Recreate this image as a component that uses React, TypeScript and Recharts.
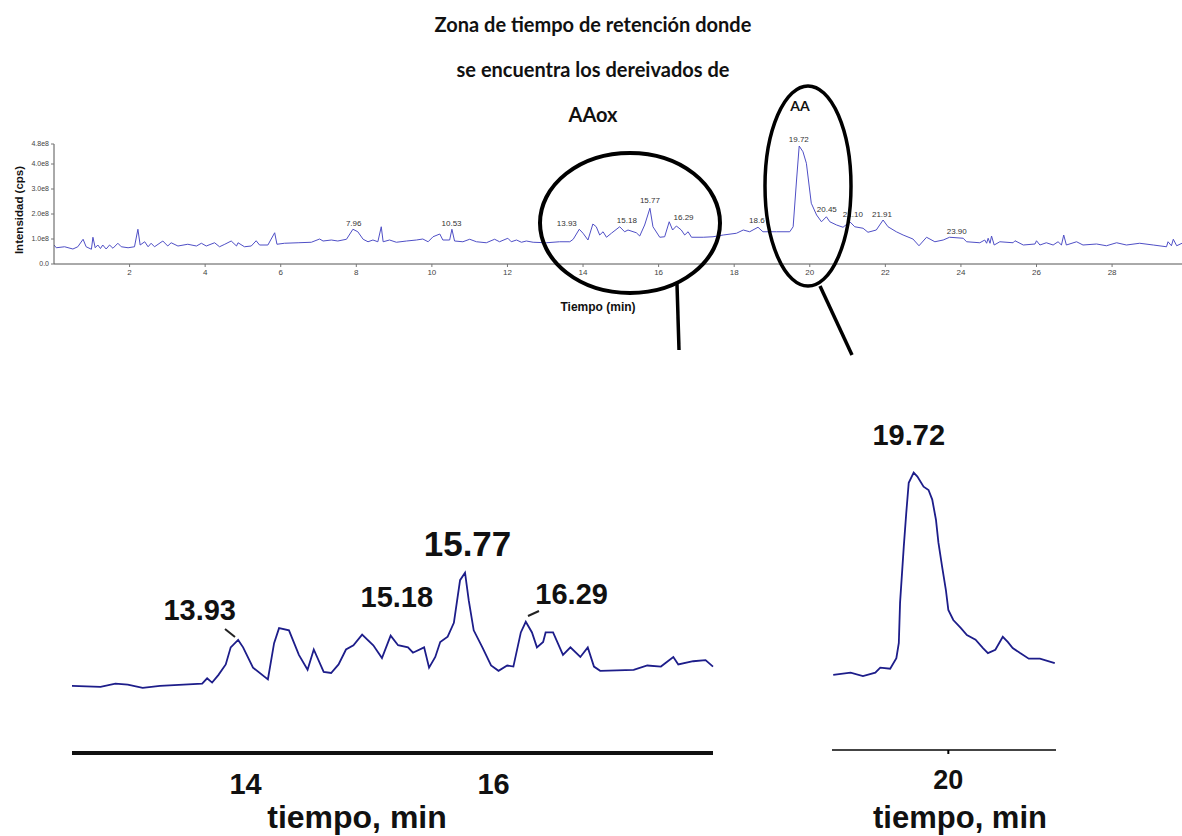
import React from 'react';
import { ComposedChart, Line, XAxis, YAxis, ReferenceDot } from 'recharts';

// full chromatogram, time in min, intensity in 1e8 cps
const topTimes = [
  0.0, 0.06, 0.28, 0.5, 0.63, 0.77, 0.85, 0.99, 1.03, 1.09, 1.16, 1.23, 1.29, 1.38, 1.47, 1.56, 1.69, 1.78, 1.96,
  2.13, 2.22, 2.28, 2.4, 2.49, 2.57, 2.66, 2.88, 3.01, 3.1, 3.28, 3.54, 3.77, 3.9, 4.03, 4.25, 4.38, 4.52, 4.69,
  4.83, 4.87, 5.04, 5.22, 5.35, 5.44, 5.66, 5.84, 5.9, 6.1, 6.46, 6.81, 7.03, 7.12, 7.34, 7.51, 7.74, 7.91, 8.04,
  8.18, 8.31, 8.44, 8.57, 8.66, 8.71, 8.88, 9.06, 9.33, 9.59, 9.76, 9.9, 10.03, 10.21, 10.29, 10.47, 10.53, 10.6,
  10.82, 11.0, 11.18, 11.44, 11.66, 11.79, 12.01, 12.1, 12.24, 12.37, 12.5, 12.68, 13.03, 13.38, 13.65, 13.74,
  13.9, 14.0, 14.13, 14.26, 14.35, 14.44, 14.53, 14.62, 14.75, 14.97, 15.1, 15.19, 15.41, 15.5, 15.63, 15.77,
  15.85, 16.03, 16.16, 16.28, 16.37, 16.47, 16.6, 16.69, 16.78, 16.87, 17.18, 17.44, 17.71, 18.06, 18.24, 18.41,
  18.63, 18.76, 19.12, 19.47, 19.56, 19.65, 19.72, 19.82, 19.91, 20.04, 20.18, 20.31, 20.44, 20.53, 20.71, 20.88,
  21.06, 21.19, 21.41, 21.54, 21.76, 21.94, 22.07, 22.29, 22.47, 22.73, 22.89, 23.09, 23.31, 23.53, 23.7, 24.06,
  24.15, 24.5, 24.63, 24.68, 24.72, 24.77, 24.81, 24.88, 25.03, 25.38, 25.43, 25.65, 25.96, 26.0, 26.09, 26.26,
  26.44, 26.57, 26.66, 26.72, 26.79, 27.06, 27.23, 27.59, 27.85, 28.12, 28.38, 28.73, 29.09, 29.44, 29.48, 29.57,
  29.62, 29.71, 29.85,
];
const topIntensity = [
  0.76, 0.65, 0.69, 0.6, 0.69, 0.99, 0.69, 0.59, 1.07, 0.65, 0.76, 0.62, 0.76, 0.6, 0.76, 0.63, 0.83, 0.69, 0.65,
  0.69, 1.39, 0.76, 0.89, 0.69, 0.83, 0.69, 0.92, 0.72, 0.85, 0.72, 0.79, 0.72, 0.83, 0.72, 0.85, 0.69, 0.79, 0.92,
  0.72, 0.85, 0.69, 0.72, 0.93, 0.76, 0.76, 1.25, 0.79, 0.83, 0.85, 0.87, 1.0, 0.92, 0.96, 0.92, 0.99, 1.39, 1.29,
  0.99, 0.89, 0.96, 0.89, 1.49, 0.89, 0.96, 0.87, 0.92, 0.96, 1.0, 0.89, 1.09, 1.2, 0.96, 0.96, 1.39, 0.92,
  0.89, 0.99, 0.89, 0.85, 0.99, 0.89, 1.03, 0.89, 0.96, 0.87, 0.92, 0.87, 0.85, 0.89, 0.89, 0.99,
  1.39, 1.23, 0.96, 1.6, 1.49, 1.16, 1.29, 1.07, 1.23, 1.49, 1.29, 1.36, 1.25, 1.12, 1.56, 2.23,
  1.49, 1.07, 1.09, 1.69, 1.36, 1.52, 1.36, 1.16, 1.29, 1.07, 1.07, 1.09, 1.16, 1.23, 1.36, 1.29,
  1.47, 1.29, 1.29, 1.29, 1.49, 3.36, 4.72, 4.49, 4.03, 2.43, 1.96, 1.69, 1.89, 1.69, 1.56, 1.47,
  1.69, 1.49, 1.43, 1.27, 1.36, 1.76, 1.49, 1.29, 1.16, 1.0, 0.73, 1.07, 0.89, 0.96, 1.07, 1.03,
  0.89, 0.85, 0.96, 0.83, 1.03, 0.83, 1.12, 0.76, 0.89, 0.85, 0.93, 0.76, 0.8, 0.93, 0.76, 0.85,
  0.76, 0.89, 0.76, 1.16, 0.76, 0.89, 0.76, 0.8, 0.73, 0.85, 0.76, 0.83, 0.76, 0.69, 0.89, 0.73,
  0.99, 0.73, 0.83,
];
const topTicks = [2, 4, 6, 8, 10, 12, 14, 16, 18, 20, 22, 24, 26, 28];
const topYTicks = [0, 1, 2, 3, 4, 4.8];
// peak labels: t / v = where the label sits (data units)
const topPeaks = [
  { t: 7.93, v: 1.36, text: '7.96' },
  { t: 10.52, v: 1.36, text: '10.53' },
  { t: 13.57, v: 1.36, text: '13.93' },
  { t: 15.16, v: 1.48, text: '15.18' },
  { t: 15.77, v: 2.28, text: '15.77' },
  { t: 16.66, v: 1.6, text: '16.29' },
  { t: 18.6, v: 1.48, text: '18.6' },
  { t: 19.71, v: 4.72, text: '19.72' },
  { t: 20.45, v: 1.92, text: '20.45' },
  { t: 21.14, v: 1.72, text: '21.10' },
  { t: 21.91, v: 1.72, text: '21.91' },
  { t: 23.89, v: 1.04, text: '23.90' },
];

// zoom on the AAox zone
const leftTimes = [
  12.6, 12.83, 12.95, 13.05, 13.17, 13.31, 13.5, 13.65, 13.69, 13.73, 13.78, 13.84, 13.88, 13.94, 13.98, 14.06,
  14.18, 14.23, 14.27, 14.35, 14.43, 14.5, 14.55, 14.63, 14.69, 14.75, 14.81, 14.87, 14.94, 15.03, 15.1, 15.17,
  15.23, 15.31, 15.35, 15.44, 15.48, 15.53, 15.57, 15.63, 15.68, 15.73, 15.77, 15.8, 15.84, 15.91, 15.98, 16.04,
  16.11, 16.16, 16.22, 16.26, 16.31, 16.35, 16.4, 16.42, 16.48, 16.56, 16.62, 16.7, 16.76, 16.81, 16.86, 17.13,
  17.24, 17.35, 17.45, 17.49, 17.61, 17.71, 17.77,
];
const leftIntensity = [
  0.85, 0.84, 0.87, 0.86, 0.83, 0.85, 0.86, 0.87, 0.92, 0.88, 0.95, 1.05, 1.21, 1.28, 1.21, 1.02,
  0.91, 1.25, 1.39, 1.37, 1.14, 1.0, 1.19, 0.98, 0.97, 1.05, 1.19, 1.23, 1.33, 1.23, 1.11, 1.32,
  1.23, 1.21, 1.16, 1.21, 1.02, 1.12, 1.26, 1.31, 1.44, 1.84, 1.91, 1.65, 1.37, 1.21, 1.04, 0.99,
  1.04, 1.03, 1.35, 1.45, 1.35, 1.21, 1.26, 1.35, 1.35, 1.14, 1.21, 1.12, 1.21, 1.03, 0.99, 1.0,
  1.04, 1.03, 1.12, 1.05, 1.08, 1.09, 1.03,
];
const leftTicks = [14, 16];
const leftPeaks = [
  { t: 13.63, v: 1.47, text: '13.93' },
  { t: 15.22, v: 1.59, text: '15.18' },
  { t: 15.79, v: 2.07, text: '15.77' },
  { t: 16.63, v: 1.62, text: '16.29' },
];

// zoom on AA
const rightTimes = [
  19.07, 19.21, 19.31, 19.41, 19.45, 19.53, 19.58, 19.6, 19.61, 19.64, 19.66, 19.68, 19.72, 19.75, 19.8, 19.84,
  19.87, 19.9, 19.92, 19.95, 19.98, 20.0, 20.04, 20.1, 20.15, 20.22, 20.28, 20.32, 20.38, 20.44, 20.48, 20.52,
  20.58, 20.65, 20.74, 20.86,
];
const rightIntensity = [
  1.0, 1.04, 0.98, 1.04, 1.13, 1.11, 1.3, 1.57, 2.29, 3.29, 3.89, 4.43, 4.61, 4.54, 4.36, 4.3,
  4.13, 3.77, 3.36, 2.93, 2.52, 2.16, 1.98, 1.84, 1.71, 1.63, 1.48, 1.39, 1.45, 1.68, 1.59, 1.48,
  1.39, 1.29, 1.29, 1.21,
];
const rightTicks = [20];
const rightPeaks = [{ t: 19.68, v: 5.11, text: '19.72' }];

const topData = topTimes.map((t, i) => ({ t, v: topIntensity[i] }));
const leftData = leftTimes.map((t, i) => ({ t, v: leftIntensity[i] }));
const rightData = rightTimes.map((t, i) => ({ t, v: rightIntensity[i] }));

const ARIAL = 'Liberation Sans, Arial, sans-serif';
const TITLE_FONT = 'Lato, Open Sans, sans-serif';

const BigTick = (props: any) => {
  const { x, y, payload, dy, size } = props;
  return (
    <text x={x} y={y} dy={dy} textAnchor="middle" fontSize={size} fontWeight="bold" fontFamily={ARIAL} fill="#111">
      {payload.value}
    </text>
  );
};

export default function App() {
  return (
    <div style={{ position: 'absolute', left: 0, top: 0, width: 1182, height: 836, background: '#fff' }}>
      <div style={{ position: 'absolute', left: 0, top: 0 }}>
        <ComposedChart width={1182} height={300} data={topData} margin={{ top: 144, right: 0, bottom: 6, left: 8 }}>
          <XAxis
            dataKey="t"
            type="number"
            domain={[0, 29.85]}
            ticks={topTicks}
            allowDataOverflow
            height={30}
            tickSize={3}
            axisLine={{ stroke: '#555' }}
            tickLine={{ stroke: '#777' }}
            tick={{ fontSize: 8, fill: '#444', fontFamily: ARIAL }}
          />
          <YAxis
            type="number"
            domain={[0, 4.8]}
            ticks={topYTicks}
            width={46}
            tickSize={3}
            axisLine={{ stroke: '#555' }}
            tickLine={{ stroke: '#777' }}
            tick={{ fontSize: 7, fill: '#444', fontFamily: ARIAL }}
            tickFormatter={(v: number) => (v === 0 ? '0.0' : `${v.toFixed(1)}e8`)}
          />
          <Line dataKey="v" type="linear" stroke="#4f4fc6" strokeWidth={1} dot={false} isAnimationActive={false} />
          {topPeaks.map((p) => (
            <ReferenceDot
              key={p.text}
              x={p.t}
              y={p.v}
              r={0}
              fill="none"
              stroke="none"
              label={{ value: p.text, position: 'top', offset: 4, fontSize: 8, fill: '#333', fontFamily: ARIAL }}
            />
          ))}
        </ComposedChart>
      </div>

      <div style={{ position: 'absolute', left: 0, top: 510 }}>
        <ComposedChart width={760} height={326} data={leftData} margin={{ top: 20, right: 47, bottom: 0, left: 72 }}>
          <XAxis
            dataKey="t"
            type="number"
            domain={[12.6, 17.77]}
            ticks={leftTicks}
            height={83}
            tickSize={6}
            tickLine={false}
            axisLine={{ stroke: '#111', strokeWidth: 4 }}
            tick={<BigTick dy={33} size={29} />}
          />
          <YAxis type="number" domain={[0.22, 2.31]} hide />
          <Line dataKey="v" type="linear" stroke="#1d1d8a" strokeWidth={1.8} dot={false} isAnimationActive={false} />
          {leftPeaks.map((p) => (
            <ReferenceDot
              key={p.text}
              x={p.t}
              y={p.v}
              r={0}
              fill="none"
              stroke="none"
              label={{
                value: p.text,
                position: 'top',
                offset: 0,
                fontSize: p.text === '15.77' ? 35 : 29,
                fontWeight: 'bold',
                fill: '#111',
                fontFamily: ARIAL,
              }}
            />
          ))}
        </ComposedChart>
      </div>

      <div style={{ position: 'absolute', left: 800, top: 400 }}>
        <ComposedChart width={300} height={436} data={rightData} margin={{ top: 20, right: 44, bottom: 0, left: 32 }}>
          <XAxis
            dataKey="t"
            type="number"
            domain={[19.06, 20.87]}
            ticks={rightTicks}
            height={86}
            tickSize={4}
            tickLine={{ stroke: '#000', strokeWidth: 2 }}
            axisLine={{ stroke: '#444', strokeWidth: 2 }}
            tick={<BigTick dy={33} size={27} />}
          />
          <YAxis type="number" domain={[-0.34, 5.55]} hide />
          <Line dataKey="v" type="linear" stroke="#1d1d8a" strokeWidth={1.8} dot={false} isAnimationActive={false} />
          {rightPeaks.map((p) => (
            <ReferenceDot
              key={p.text}
              x={p.t}
              y={p.v}
              r={0}
              fill="none"
              stroke="none"
              label={{ value: p.text, position: 'top', offset: 0, fontSize: 29, fontWeight: 'bold', fill: '#111', fontFamily: ARIAL }}
            />
          ))}
        </ComposedChart>
      </div>

      <svg width={1182} height={836} style={{ position: 'absolute', left: 0, top: 0, pointerEvents: 'none' }}>
        <g fontFamily={TITLE_FONT} fontWeight="bold" fill="#111" textAnchor="middle">
          <text x={593} y={32} fontSize={20}>Zona de tiempo de retención donde</text>
          <text x={593} y={77} fontSize={20}>se encuentra los dereivados de</text>
          <text x={593} y={122} fontSize={20}>AAox</text>
          <text x={800} y={111} fontSize={14}>AA</text>
        </g>
        <text
          x={23}
          y={210}
          transform="rotate(-90 23 210)"
          textAnchor="middle"
          fontSize={11.5}
          fontWeight="bold"
          fontFamily={ARIAL}
          fill="#111"
        >
          Intensidad (cps)
        </text>
        <text x={598} y={311} textAnchor="middle" fontSize={12} fontWeight="bold" fontFamily={ARIAL} fill="#111">
          Tiempo (min)
        </text>
        <ellipse cx={630} cy={223} rx={90} ry={70} fill="none" stroke="#000" strokeWidth={4} />
        <ellipse cx={808} cy={186} rx={43} ry={100} fill="none" stroke="#000" strokeWidth={3.5} />
        <line x1={677} y1={284} x2={679} y2={350} stroke="#000" strokeWidth={3.5} />
        <line x1={820} y1={286} x2={852} y2={355} stroke="#000" strokeWidth={3.5} />
        <line x1={225} y1={629} x2={235} y2={637} stroke="#222" strokeWidth={2} />
        <line x1={528} y1={616} x2={539} y2={611} stroke="#222" strokeWidth={2} />
        <g fontFamily={ARIAL} fontWeight="bold" fill="#111" textAnchor="middle">
          <text x={357} y={828} fontSize={32}>tiempo, min</text>
          <text x={960} y={828} fontSize={31}>tiempo, min</text>
        </g>
      </svg>
    </div>
  );
}
